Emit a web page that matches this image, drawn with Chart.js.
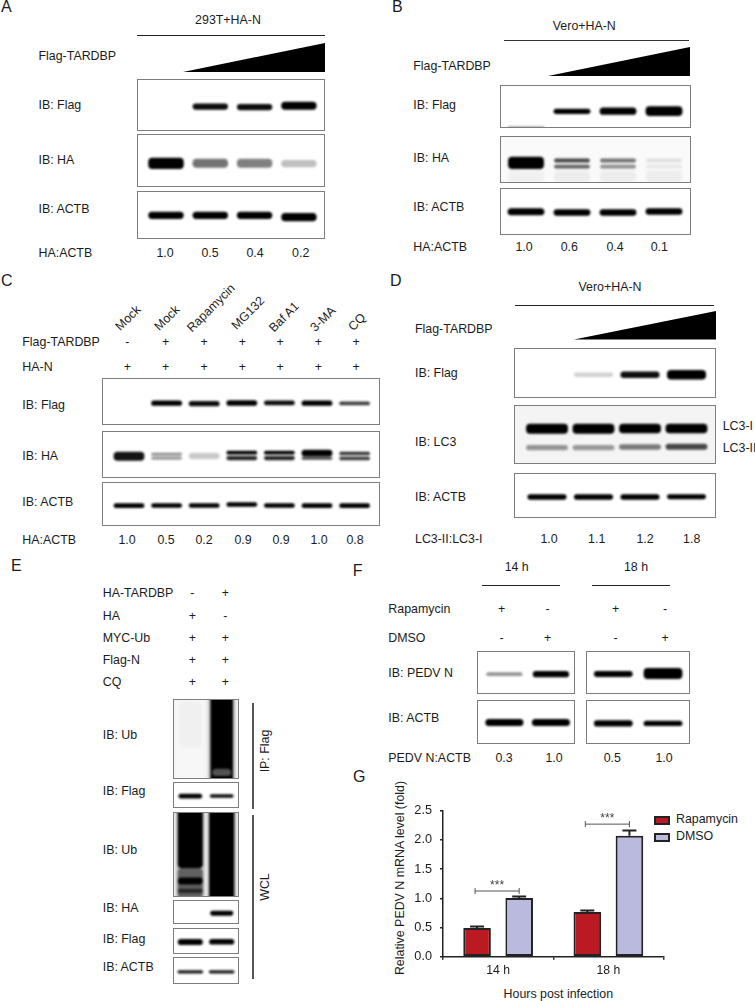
<!DOCTYPE html>
<html>
<head>
<meta charset="utf-8">
<title>TARDBP blots and PEDV N mRNA level</title>
<script src="https://cdn.jsdelivr.net/npm/chart.js@4"></script>
<style>
  html, body { margin: 0; padding: 0; background: #fff; }
  #page { position: relative; width: 755px; height: 1001px; overflow: hidden; font-family: "Liberation Sans", Arial, sans-serif; font-size: 12.4px; color: #1c1c1c; }
  .txt { position: absolute; white-space: nowrap; line-height: 14px; }
  .rule { position: absolute; background: #222; }
  .wedge { position: absolute; background: #000; clip-path: polygon(0 100%, 100% 0, 100% 100%); }
  .frame { position: absolute; box-sizing: border-box; border: 1px solid #7d7d7d; overflow: hidden; background: #fff; }
  .frame canvas { position: absolute; left: -4px; top: -4px; filter: blur(1.3px); }
  .swatch { position: absolute; box-sizing: border-box; border: 2px solid #222; }
  #barChart { position: absolute; left: 385px; top: 790px; }
</style>
</head>
<body>
<div id="page"></div>
<script>
// --- BAR CHART DATA (panel G) ---
const hours = ['14 h', '18 h'];
const rapamycin = [0.49, 0.765];
const dmso = [1.005, 2.07];
const rapamycinErr = [0.025, 0.025];
const dmsoErr = [0.025, 0.09];
const sigLevel = [1.125, 2.27];
const yTicks = [0, 0.5, 1, 1.5, 2, 2.5];

// --- BLOT DATA ---
// band = [top, bottom] of a band on the membrane, in % of the membrane height
// ink = how dark the band is, 0 to 1
const lanes2 = ['1', '2'];
const lanes4 = ['1', '2', '3', '4'];
const lanes7 = ['1', '2', '3', '4', '5', '6', '7'];

const aFlagBand = [null, [45, 57], [46, 58], [42, 57]];
const aFlagInk = [0, 0.95, 0.95, 1];
const aHaBand = [[43, 64], [45, 62], [45, 62], [47, 61]];
const aHaInk = [1, 0.55, 0.5, 0.25];
const aActbBand = [[41, 56], [41, 56], [41, 56], [44, 61]];
const aActbInk = [1, 1, 1, 1];

const bFlagBand = [[94, 99], [53, 65], [50, 67], [47, 70]];
const bFlagInk = [0.45, 1, 1, 1];
const bHaBand = [[42, 68], [46, 54], [46, 54], [46, 54]];
const bHaInk = [1, 0.72, 0.55, 0.12];
const bHaLowerBand = [null, [59, 67], [59, 67], [59, 67]];
const bHaLowerInk = [0, 0.62, 0.45, 0.1];
const bHaSmearBand = [[72, 95], [72, 95], [72, 95], [72, 95]];
const bHaSmearInk = [0.06, 0.07, 0.07, 0.07];
const bActbBand = [[41, 56], [43, 57], [43, 57], [41, 55]];
const bActbInk = [1, 1, 1, 1];

const cFlagBand = [null, [46, 57], [47, 58], [45, 57], [46, 56], [46, 57], [48, 56]];
const cFlagInk = [0, 1, 0.95, 1, 0.95, 1, 0.75];
const cHaBand = [[42, 61], [44, 50], [44, 58], [40, 48], [40, 48], [38, 52], [42, 49]];
const cHaInk = [0.92, 0.45, 0.2, 1, 1, 1, 0.8];
const cHaLowerBand = [null, [52, 59], null, [51, 60], [51, 60], [53, 59], [52, 60]];
const cHaLowerInk = [0, 0.4, 0, 0.85, 0.85, 0.7, 0.75];
const cActbBand = [[46, 57], [46, 56], [46, 56], [44, 54], [46, 56], [46, 57], [46, 57]];
const cActbInk = [1, 1, 1, 1, 1, 1, 1];

const dFlagBand = [null, [47, 56], [45, 58], [42, 61]];
const dFlagInk = [0, 0.18, 0.95, 1];
const dLc3Band = [[30, 47], [30, 47], [30, 46], [30, 46]];
const dLc3Ink = [1, 1, 1, 1];
const dLc3LowerBand = [[66, 75], [66, 75], [65, 74], [64, 74]];
const dLc3LowerInk = [0.42, 0.4, 0.52, 0.72];
const dActbBand = [[45, 57], [45, 57], [45, 57], [45, 56]];
const dActbInk = [1, 1, 1, 1];

const eUbIpSpotBand = [null, [86, 95]];
const eUbIpSpotInk = [0, 0.68];
const eUbIpBand = [[2, 60], [-10, 110]];
const eUbIpInk = [0.06, 1];
const eUbIpHaloBand = [[-10, 110], [-10, 110]];
const eUbIpHaloInk = [0.03, 0.22];
const eFlagIpBand = [[41, 60], [43, 57]];
const eFlagIpInk = [1, 0.95];
const eUbDarkBand = [[76, 84], null];
const eUbDarkInk = [1, 0];
const eUbStripeBand = [[89, 94], null];
const eUbStripeInk = [0.85, 0];
const eUbBand = [[-10, 65], [-10, 110]];
const eUbInk = [1, 1];
const eUbLowerBand = [[65, 100], null];
const eUbLowerInk = [0.62, 0];
const eUbHaloBand = [[-10, 110], [-10, 110]];
const eUbHaloInk = [0.22, 0.22];
const eHaBand = [null, [41, 61]];
const eHaInk = [0, 1];
const eFlagBand = [[38, 62], [38, 60]];
const eFlagInk = [1, 1];
const eActbBand = [[45, 57], [45, 57]];
const eActbInk = [0.9, 0.9];

const fPedv14Band = [[47, 56], [44, 59]];
const fPedv14Ink = [0.42, 1];
const fPedv18Band = [[44, 58], [37, 63]];
const fPedv18Ink = [1, 1];
const fActb14Band = [[41, 57], [41, 57]];
const fActb14Ink = [1, 1];
const fActb18Band = [[44, 58], [45, 57]];
const fActb18Ink = [1, 1];

// --- TEXT DATA ---
const aRatio = ['1.0', '0.5', '0.4', '0.2'];
const bRatio = ['1.0', '0.6', '0.4', '0.1'];
const cRatio = ['1.0', '0.5', '0.2', '0.9', '0.9', '1.0', '0.8'];
const dRatio = ['1.0', '1.1', '1.2', '1.8'];
const fRatio = ['0.3', '1.0', '0.5', '1.0'];
const cTreatments = ['Mock', 'Mock', 'Rapamycin', 'MG132', 'Baf A1', '3-MA', 'CQ'];
const cFlagSigns = ['-', '+', '+', '+', '+', '+', '+'];
const cHaSigns = ['+', '+', '+', '+', '+', '+', '+'];
const eTardbpSigns = ['-', '+'];
const eHaSigns = ['+', '-'];
const eUbSigns = ['+', '+'];
const eFlagSigns = ['+', '+'];
const eCqSigns = ['+', '+'];
const fRapaSigns = ['+', '-', '+', '-'];
const fDmsoSigns = ['-', '+', '-', '+'];

const page = document.getElementById('page');

// --- HELPERS ---
function text(str, x, y, opts = {}) {
    const el = document.createElement('div');
    el.className = 'txt';
    el.textContent = str;
    el.style.left = x + 'px';
    el.style.top = y + 'px';
    const shiftX = opts.center ? '-50%' : '0';
    el.style.transform = `translate(${shiftX}, -50%) rotate(${opts.rotate || 0}deg)`;
    if (opts.size) el.style.fontSize = opts.size + 'px';
    page.appendChild(el);
}

function row(list, xs, y) {
    list.forEach((str, i) => text(str, xs[i], y, { center: true }));
}

function rule(x, y, w, h, color) {
    const el = document.createElement('div');
    el.className = 'rule';
    el.style.cssText = `left:${x}px;top:${y}px;width:${w}px;height:${h}px;background:${color || '#222'}`;
    page.appendChild(el);
}

function wedge(x, y, w, h) {
    const el = document.createElement('div');
    el.className = 'wedge';
    el.style.cssText = `left:${x}px;top:${y}px;width:${w}px;height:${h}px`;
    page.appendChild(el);
}

function inkColor(ink) {
    const v = Math.round(255 * (1 - ink));
    return `rgb(${v},${v},${v})`;
}

// one chart per membrane, first track is painted on top
// a track is [band, ink] or [band, ink, own width]
function blot(box, lanes, tracks, lane0, step, widthPct, bg) {
    const [x, y, w, h] = box;
    const frame = document.createElement('div');
    frame.className = 'frame';
    frame.style.cssText = `left:${x}px;top:${y}px;width:${w}px;height:${h}px;background:${bg || '#fff'}`;
    const canvas = document.createElement('canvas');
    const cw = w + 8, ch = h + 8;
    canvas.width = cw;
    canvas.height = ch;
    canvas.style.width = cw + 'px';
    canvas.style.height = ch + 'px';
    frame.appendChild(canvas);
    page.appendChild(frame);

    const canvasLeft = x - 3;
    const padLeft = lane0 - step / 2 - canvasLeft;
    const padRight = canvasLeft + cw - (lane0 + step * (lanes.length - 0.5));
    const edge = 4 / h * 100;

    new Chart(canvas, {
        type: 'bar',
        data: {
            labels: lanes,
            datasets: tracks.map(t => ({
                data: t[0],
                backgroundColor: t[1].map(inkColor),
                grouped: false,
                borderRadius: 4,
                borderSkipped: false,
                barPercentage: t[2] || widthPct,
                categoryPercentage: 1
            }))
        },
        options: {
            responsive: false,
            animation: false,
            devicePixelRatio: 1,
            layout: { padding: { left: padLeft, right: padRight, top: 0, bottom: 0 } },
            plugins: { legend: { display: false }, tooltip: { enabled: false } },
            scales: {
                x: { display: false },
                y: { display: false, reverse: true, min: -edge, max: 100 + edge }
            }
        }
    });
}

// --- PANEL A ---
text('A', 1, 7, { size: 16 });
text('293T+HA-N', 228, 19.5, { center: true });
rule(137, 35, 188, 1);
text('Flag-TARDBP', 38.5, 56);
wedge(183, 43, 142, 29);
blot([137, 79, 188, 52], lanes4, [[aFlagBand, aFlagInk]], 166, 44.3, 0.8);
blot([137, 134, 188, 53], lanes4, [[aHaBand, aHaInk]], 166, 44.3, 0.8);
blot([137, 191, 188, 48], lanes4, [[aActbBand, aActbInk]], 166, 44.3, 0.8);
text('IB: Flag', 38.5, 105);
text('IB: HA', 38.5, 159.5);
text('IB: ACTB', 38.5, 208.7);
text('HA:ACTB', 38.5, 253);
row(aRatio, [165, 210, 255, 300.7], 253);

// --- PANEL B ---
text('B', 392, 7, { size: 16 });
text('Vero+HA-N', 584.3, 25.7, { center: true });
rule(504, 39.5, 185, 1, '#333');
text('Flag-TARDBP', 413.3, 66);
wedge(548, 47, 142, 29);
blot([500, 85, 191, 43], lanes4, [[bFlagBand, bFlagInk]], 526, 46, 0.8);
blot([500, 136, 191, 47], lanes4, [[bHaBand, bHaInk], [bHaLowerBand, bHaLowerInk], [bHaSmearBand, bHaSmearInk]], 526, 46, 0.78, '#fafafa');
blot([500, 188, 191, 47], lanes4, [[bActbBand, bActbInk]], 526, 46, 0.8);
text('IB: Flag', 413.3, 105);
text('IB: HA', 413.3, 158);
text('IB: ACTB', 413.3, 207);
text('HA:ACTB', 413.3, 246.7);
row(bRatio, [524, 569.3, 615, 659.3], 246.7);

// --- PANEL C ---
const cSignX = [127.3, 165.7, 204, 242.3, 280, 318.3, 356];
const cLabelX = [128, 167, 210.7, 248, 284, 323, 356.7];
const cLabelY = [318, 318, 308, 313, 316.7, 319, 321.7];
text('C', 1, 281, { size: 16 });
cTreatments.forEach((str, i) => text(str, cLabelX[i], cLabelY[i], { center: true, rotate: -45 }));
text('Flag-TARDBP', 22.3, 342.3);
row(cFlagSigns, cSignX, 342.3);
text('HA-N', 22.3, 366.7);
row(cHaSigns, cSignX, 366.7);
blot([102, 378, 278, 47], lanes7, [[cFlagBand, cFlagInk]], 129, 37.6, 0.82);
blot([102, 431, 278, 47], lanes7, [[cHaBand, cHaInk], [cHaLowerBand, cHaLowerInk]], 129, 37.6, 0.82);
blot([102, 482, 278, 44], lanes7, [[cActbBand, cActbInk]], 129, 37.6, 0.82);
text('IB: Flag', 22.3, 405);
text('IB: HA', 22.3, 456);
text('IB: ACTB', 22.3, 501.7);
text('HA:ACTB', 22.3, 540);
row(cRatio, [127, 166, 204, 243, 281, 319, 355], 540);

// --- PANEL D ---
text('D', 390, 281, { size: 16 });
text('Vero+HA-N', 610, 287.3, { center: true });
rule(515, 304.5, 199, 1);
text('Flag-TARDBP', 415, 329.3);
wedge(574, 311, 142, 28.5);
blot([514, 348, 202, 50], lanes4, [[dFlagBand, dFlagInk]], 547, 46.5, 0.84);
blot([514, 405, 202, 59], lanes4, [[dLc3Band, dLc3Ink], [dLc3LowerBand, dLc3LowerInk]], 547, 46.5, 0.9, '#f4f4f4');
blot([514, 473, 202, 45], lanes4, [[dActbBand, dActbInk]], 547, 46.5, 0.84);
text('IB: Flag', 415, 373.3);
text('IB: LC3', 415, 441.7);
text('IB: ACTB', 415, 497.3);
text('LC3-I', 722.7, 425.7);
text('LC3-II', 722.7, 447.7);
text('LC3-II:LC3-I', 415, 539.3);
row(dRatio, [549, 596.7, 645, 691.7], 539.3);

// --- PANEL E ---
const eSignX = [192.3, 225.3];
text('E', 11, 566, { size: 16 });
text('HA-TARDBP', 102.7, 593.3);
row(eTardbpSigns, eSignX, 593.3);
text('HA', 102.7, 615.5);
row(eHaSigns, eSignX, 615.5);
text('MYC-Ub', 102.7, 637.5);
row(eUbSigns, eSignX, 637.5);
text('Flag-N', 102.7, 659.5);
row(eFlagSigns, eSignX, 659.5);
text('CQ', 102.7, 682);
row(eCqSigns, eSignX, 682);
blot([173, 699, 66, 80], lanes2, [[eUbIpSpotBand, eUbIpSpotInk, 0.6], [eUbIpBand, eUbIpInk], [eUbIpHaloBand, eUbIpHaloInk, 0.88]], 190.3, 31.4, 0.72, '#f4f4f4');
blot([173, 782, 66, 26], lanes2, [[eFlagIpBand, eFlagIpInk]], 190.3, 31.4, 0.76);
blot([173, 812, 66, 85], lanes2, [[eUbDarkBand, eUbDarkInk], [eUbStripeBand, eUbStripeInk], [eUbBand, eUbInk], [eUbLowerBand, eUbLowerInk], [eUbHaloBand, eUbHaloInk, 0.92]], 190.3, 31.4, 0.8, '#ececec');
blot([173, 900, 66, 24], lanes2, [[eHaBand, eHaInk]], 190.3, 31.4, 0.74);
blot([173, 928, 66, 26], lanes2, [[eFlagBand, eFlagInk]], 190.3, 31.4, 0.8);
blot([173, 957, 66, 27], lanes2, [[eActbBand, eActbInk]], 190.3, 31.4, 0.82);
text('IB: Ub', 102.7, 735);
text('IB: Flag', 102.7, 791.3);
text('IB: Ub', 102.7, 850.3);
text('IB: HA', 102.7, 908);
text('IB: Flag', 102.7, 939.3);
text('IB: ACTB', 102.7, 966.7);
rule(252, 702.5, 2, 106, '#555');
rule(252, 815, 2, 164, '#555');
text('IP: Flag', 265, 751, { center: true, rotate: -90 });
text('WCL', 265, 886.7, { center: true, rotate: -90 });

// --- PANEL F ---
const fSignX = [501.7, 547.7, 615.7, 665];
text('F', 352.7, 571, { size: 16 });
text('14 h', 516.7, 567.3, { center: true });
text('18 h', 636, 567.3, { center: true });
rule(481.7, 584.5, 78, 1);
rule(592.3, 584.5, 78, 1);
text('Rapamycin', 388.3, 608.7);
row(fRapaSigns, fSignX, 608.7);
text('DMSO', 388.3, 637.7);
row(fDmsoSigns, fSignX, 637.7);
blot([477, 651, 98, 43], lanes2, [[fPedv14Band, fPedv14Ink]], 504.4, 46.5, 0.78);
blot([586, 651, 104, 43], lanes2, [[fPedv18Band, fPedv18Ink]], 613.3, 49.7, 0.78);
blot([477, 700, 98, 44], lanes2, [[fActb14Band, fActb14Ink]], 504.4, 46.5, 0.82);
blot([586, 700, 104, 44], lanes2, [[fActb18Band, fActb18Ink]], 613.3, 49.7, 0.78);
text('IB: PEDV N', 388.3, 673.3);
text('IB: ACTB', 388.3, 717.7);
text('PEDV N:ACTB', 388.3, 757.7);
row(fRatio, [504, 554, 612.3, 664], 757.7);

// --- PANEL G ---
text('G', 353, 776.7, { size: 16 });
text('Relative PEDV N mRNA level (fold)', 400, 877.5, { center: true, rotate: -90 });
text('Hours post infection', 558.3, 994, { center: true });

const legendRows = [['Rapamycin', '#bc1a22', 816, 819.3], ['DMSO', '#babade', 832.5, 836]];
legendRows.forEach(r => {
    const box = document.createElement('div');
    box.className = 'swatch';
    box.style.cssText = `left:653.5px;top:${r[2]}px;width:16.5px;height:9px;background:${r[1]}`;
    page.appendChild(box);
    text(r[0], 676, r[3]);
});

const canvas = document.createElement('canvas');
canvas.id = 'barChart';
canvas.width = 370;
canvas.height = 211;
canvas.style.width = '370px';
canvas.style.height = '211px';
page.appendChild(canvas);

// error bars and significance brackets, placed through the chart's scales
const barDetails = {
    id: 'barDetails',
    afterDatasetsDraw(chart) {
        const ctx = chart.ctx;
        const yScale = chart.scales.y;
        const errors = [rapamycinErr, dmsoErr];
        const values = [rapamycin, dmso];
        ctx.save();
        ctx.strokeStyle = '#222';
        ctx.lineWidth = 2;
        errors.forEach((list, d) => {
            chart.getDatasetMeta(d).data.forEach((bar, i) => {
                const top = yScale.getPixelForValue(values[d][i] + list[i]);
                const base = yScale.getPixelForValue(values[d][i]);
                ctx.beginPath();
                ctx.moveTo(bar.x, base);
                ctx.lineTo(bar.x, top);
                ctx.moveTo(bar.x - 7, top);
                ctx.lineTo(bar.x + 7, top);
                ctx.stroke();
            });
        });
        ctx.strokeStyle = '#555';
        ctx.fillStyle = '#444';
        ctx.lineWidth = 1;
        ctx.font = '12px "Liberation Sans"';
        ctx.textAlign = 'center';
        ctx.textBaseline = 'middle';
        sigLevel.forEach((level, i) => {
            const x1 = chart.getDatasetMeta(0).data[i].x - 2;
            const x2 = chart.getDatasetMeta(1).data[i].x;
            const y = yScale.getPixelForValue(level);
            ctx.beginPath();
            ctx.moveTo(x1, y - 3);
            ctx.lineTo(x1, y + 3);
            ctx.moveTo(x1, y);
            ctx.lineTo(x2, y);
            ctx.moveTo(x2, y - 3);
            ctx.lineTo(x2, y + 3);
            ctx.stroke();
            ctx.fillText('***', (x1 + x2) / 2, y - 5);
        });
        ctx.restore();
    }
};

new Chart(canvas, {
    type: 'bar',
    data: {
        labels: hours,
        datasets: [
            { label: 'Rapamycin', data: rapamycin, backgroundColor: '#bc1a22', borderColor: '#222', borderWidth: 2, borderSkipped: false, categoryPercentage: 0.764, barPercentage: 0.655 },
            { label: 'DMSO', data: dmso, backgroundColor: '#babade', borderColor: '#222', borderWidth: 2, borderSkipped: false, categoryPercentage: 0.764, barPercentage: 0.655 }
        ]
    },
    options: {
        responsive: false,
        animation: false,
        devicePixelRatio: 1,
        layout: { padding: { left: 0, right: 91.5, top: 20.7, bottom: 0 } },
        plugins: { legend: { display: false }, tooltip: { enabled: false } },
        scales: {
            x: {
                afterFit: scale => { scale.height = 44.3; },
                grid: { drawOnChartArea: false, drawTicks: true, tickLength: 3, color: '#222', lineWidth: 1.5 },
                border: { color: '#222', width: 1.5 },
                ticks: { color: '#1c1c1c', padding: 4, font: { family: 'Liberation Sans', size: 12.2 } }
            },
            y: {
                min: 0,
                max: 2.5,
                afterFit: scale => { scale.width = 58; },
                afterBuildTicks: scale => { scale.ticks = yTicks.map(v => ({ value: v })); },
                grid: { drawOnChartArea: false, drawTicks: true, tickLength: 3, color: '#222', lineWidth: 1.5 },
                border: { color: '#222', width: 1.5 },
                ticks: { color: '#1c1c1c', padding: 8, font: { family: 'Liberation Sans', size: 12.7 }, callback: v => v.toFixed(1) }
            }
        }
    },
    plugins: [barDetails]
});
</script>
</body>
</html>
